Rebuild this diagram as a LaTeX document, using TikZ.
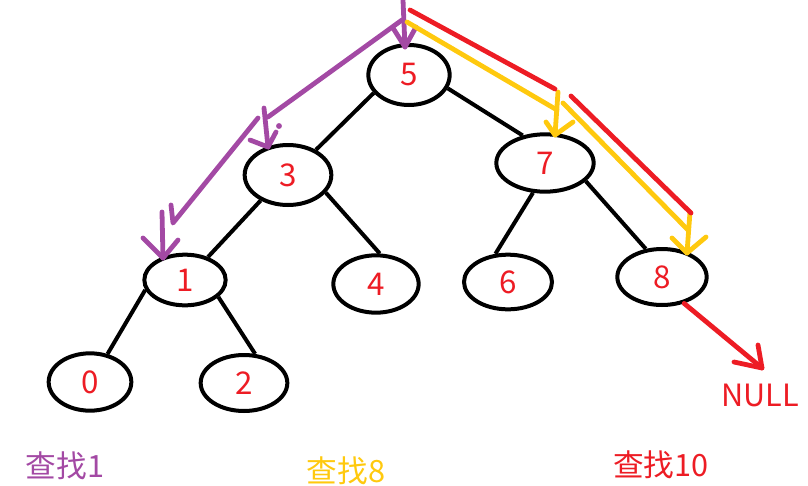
\documentclass[tikz,border=0pt]{standalone}
\usepackage{fontspec}
\setmainfont{Noto Sans CJK SC}
\usetikzlibrary{shapes.geometric}
\definecolor{pp}{RGB}{163,73,164}
\definecolor{yy}{RGB}{255,201,14}
\definecolor{rr}{RGB}{237,28,36}
\begin{document}
\begin{tikzpicture}[x=0.75pt,y=-0.75pt,
  tn/.style={ellipse,draw=black,line width=3pt,inner sep=0pt,text=rr,font=\fontsize{23.5}{23.5}\selectfont},
  tedge/.style={line width=3pt,black},
  pen/.style={line width=3.6pt,line cap=round,line join=round},
  lbl/.style={font=\fontsize{23}{23}\selectfont,inner sep=0pt}]
\useasboundingbox (0,0) rectangle (808,486);
% tree nodes
\node[tn,minimum width=61pt,minimum height=45pt] (n5) at (409,75) {5};
\node[tn,minimum width=65pt,minimum height=45pt] (n3) at (288,175) {3};
\node[tn,minimum width=73pt,minimum height=43pt] (n7) at (545,163) {7};
\node[tn,minimum width=61pt,minimum height=38pt] (n1) at (185,280) {1};
\node[tn,minimum width=64pt,minimum height=43pt] (n4) at (376,284) {4};
\node[tn,minimum width=66pt,minimum height=41pt] (n6) at (508,282) {6};
\node[tn,minimum width=67pt,minimum height=42pt] (n8) at (662,277) {8};
\node[tn,minimum width=62pt,minimum height=43pt] (n0) at (90,382) {0};
\node[tn,minimum width=65pt,minimum height=42pt] (n2) at (244,383) {2};
% tree edges
\draw[tedge] (n5.-153) -- (n3.42);
\draw[tedge] (n5.-19) -- (n7.129);
\draw[tedge] (n3.-137) -- (n1.45);
\draw[tedge] (n3.-25) -- (n4.83);
\draw[tedge] (n7.-112) -- (n6.114);
\draw[tedge] (n7.-24) -- (n8.120);
\draw[tedge] (n1.-166) -- (n0.58);
\draw[tedge] (n1.-27) -- (n2.69);
% labels
\node[lbl,text=rr] (null) at (760,395) {NULL};
\node[lbl,text=pp] (l1) at (65,466) {查找1};
\node[lbl,text=yy] (l8) at (346,471) {查找8};
\node[lbl,text=rr] (l10) at (661,465) {查找10};
% purple path (search 1)
\draw[pen,pp] (403,0) -- (405,47);
\draw[pen,pp] (393,28) -- (405,47) -- (416,27);
\draw[pen,pp] (402,20) -- (268,117);
\draw[pen,pp] (264,108) -- (268,147);
\draw[pen,pp] (250,140) -- (268,147) -- (276,132);
\fill[pp] (279,126) circle (2.2pt);
\draw[pen,pp] (258,118) -- (173,223) -- (171,205);
\draw[pen,pp] (162,212) -- (163,258);
\draw[pen,pp] (143,238) -- (163,258) -- (178,240);
% yellow path (search 8)
\draw[pen,yy] (407,22) -- (557,110);
\draw[pen,yy] (558,92) -- (555,135);
\draw[pen,yy] (546,122) -- (555,135) -- (573,122);
\draw[pen,yy] (563,103) -- (688,230);
\draw[pen,yy] (690,212) -- (687,253);
\draw[pen,yy] (672,238) -- (687,253) -- (706,237);
% red path (search 10)
\draw[pen,rr] (410,10) -- (555,89);
\draw[pen,rr] (571,96) -- (691,213);
\coordinate (nulltip) at (762,368);
\draw[pen,rr] (n8.-50) -- (nulltip);
\draw[pen,rr] (734,362) -- (nulltip) -- (758,345);
\end{tikzpicture}
\end{document}
